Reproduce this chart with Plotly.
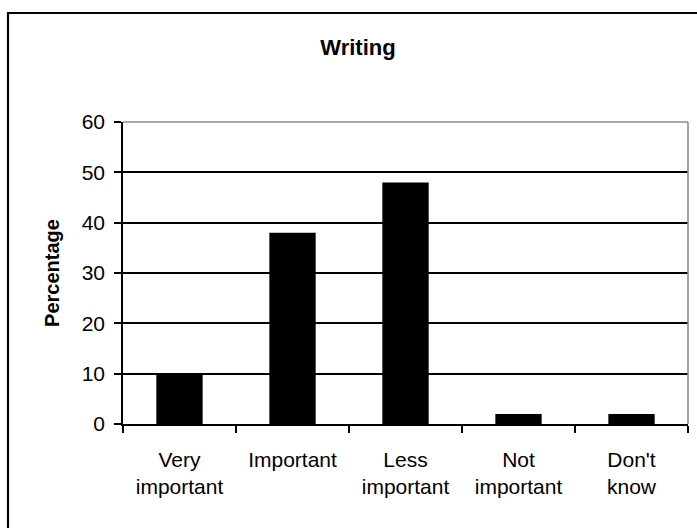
import plotly.graph_objects as go

# Survey responses on the importance of writing
categories = ["Very<br>important", "Important", "Less<br>important", "Not<br>important", "Don't<br>know"]
percentages = [10, 38, 48, 2, 2]
y_ticks = [0, 10, 20, 30, 40, 50, 60]

FONT = "Arial, Liberation Sans, sans-serif"

fig = go.Figure(
    go.Bar(
        x=categories,
        y=percentages,
        marker=dict(color="black", line=dict(width=0)),
        width=0.41,
    )
)

# Plot area geometry (pixels)
W, H = 697, 528
L, R, T, B = 123, 9, 122, 104
pw, ph = W - L - R, H - T - B

def px_x(p):
    return (p - L) / pw

def px_y(p):
    return (H - B - p) / ph

fig.update_layout(
    width=W,
    height=H,
    margin=dict(l=L, r=R, t=T, b=B),
    paper_bgcolor="white",
    plot_bgcolor="white",
    showlegend=False,
    font=dict(family=FONT, color="black", size=21),
    title=dict(
        text="<b>Writing</b>",
        font=dict(family=FONT, size=22, color="black"),
        xref="container",
        yref="container",
        x=358 / W,
        y=1 - 47 / H,
        xanchor="center",
        yanchor="middle",
    ),
    xaxis=dict(
        type="category",
        showgrid=False,
        showline=True,
        linecolor="black",
        linewidth=1.5,
        ticks="outside",
        tickson="boundaries",
        ticklen=7,
        tickwidth=1.5,
        tickcolor="black",
        ticklabelstandoff=16,
        tickfont=dict(family=FONT, size=21, color="black"),
    ),
    yaxis=dict(
        range=[0, 60],
        tickvals=y_ticks,
        showgrid=True,
        gridcolor="black",
        gridwidth=1.6,
        zeroline=False,
        showline=True,
        linecolor="black",
        linewidth=1.6,
        ticks="outside",
        ticklen=7,
        tickwidth=1.5,
        tickcolor="black",
        ticklabelstandoff=5,
        tickfont=dict(family=FONT, size=21, color="black"),
        title=dict(
            text="<b>Percentage</b>",
            font=dict(family=FONT, size=20, color="black"),
            standoff=17,
        ),
    ),
    shapes=[
        # gray plot-area border on top and right
        dict(type="line", xref="paper", yref="paper", x0=0, x1=1, y0=1, y1=1,
             line=dict(color="#8c8c8c", width=1.6), layer="above"),
        dict(type="line", xref="paper", yref="paper", x0=1, x1=1, y0=0, y1=1,
             line=dict(color="#8c8c8c", width=1.6), layer="above"),
        # outer chart frame
        dict(type="rect", xref="paper", yref="paper",
             x0=px_x(8), x1=px_x(699), y0=px_y(531), y1=px_y(13),
             line=dict(color="black", width=2.2), layer="above"),
    ],
)

fig.write_html("out.html")
